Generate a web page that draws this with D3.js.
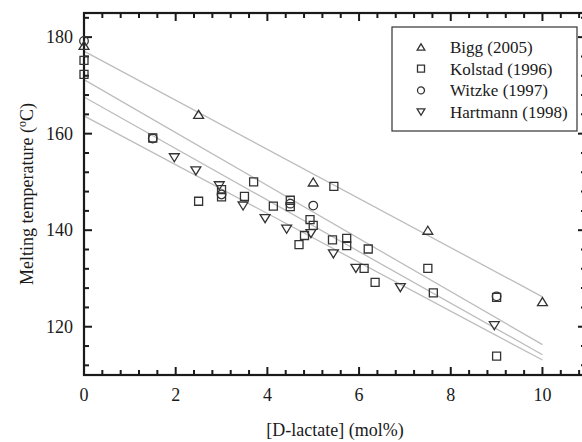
<!DOCTYPE html>
<html><head><meta charset="utf-8">
<script src="https://cdn.jsdelivr.net/npm/d3@7"></script>
<style>
html,body{margin:0;padding:0;background:#fff;}
svg{display:block;}
</style></head>
<body>
<script>
// ---- data ----
const xTicksMajor = [0, 2, 4, 6, 8, 10];
const yTicksMajor = [120, 140, 160, 180];
const seriesNames = ["Bigg (2005)", "Kolstad (1996)", "Witzke (1997)", "Hartmann (1998)"];
const biggX = [0, 2.5, 5, 7.5, 10];
const biggY = [178.3, 164, 150, 140, 125.2];
const kolstadX = [0, 0, 1.5, 2.5, 3, 3, 3.5, 3.7, 4.13, 4.5, 4.5, 4.69, 4.81, 4.93, 5, 5.42, 5.45, 5.73, 5.73, 6.11, 6.2, 6.35, 7.5, 7.62, 9, 9];
const kolstadY = [175.2, 172.3, 159.1, 146, 148.4, 146.9, 147, 150, 145, 146.2, 144.9, 137, 138.9, 142.2, 141, 138, 149.1, 138.3, 136.8, 132.1, 136.1, 129.2, 132.1, 127, 126.1, 113.9];
const witzkeX = [0, 1.5, 3, 4.5, 5, 9];
const witzkeY = [179.2, 159, 147.4, 145.5, 145.1, 126.3];
const hartmannX = [1.97, 2.44, 2.95, 3.47, 3.95, 4.42, 4.95, 5.44, 5.93, 6.9, 8.95];
const hartmannY = [155, 152.3, 149.2, 145, 142.4, 140.2, 139.3, 135.1, 132.1, 128.1, 120.2];
// fitted lines (value at x=0 and x=10)
const fitX = [0, 10];
const fitStart = [177.1, 171.2, 167.6, 163.7];
const fitEnd = [126.2, 116.3, 114.2, 113.1];

// ---- layout ----
const W = 582, H = 442;
const L = 84, R = 586, T = 13, B = 375;
const FONT = "'Liberation Serif', 'Times New Roman', Times, serif";
const svg = d3.select("body").append("svg").attr("width", W).attr("height", H)
  .attr("font-family", FONT).style("font-family", FONT);

const x = d3.scaleLinear().domain([0, 10.95]).range([L, R]);
const y = d3.scaleLinear().domain([110, 185]).range([B, T]);
const ink = "#1a1a1a";
const mk = "#333";

// fit lines
const line = d3.line().x(d => x(d[0])).y(d => y(d[1]));
fitStart.forEach((s, i) => {
  svg.append("path").datum([[fitX[0], s], [fitX[1], fitEnd[i]]])
    .attr("d", line).attr("fill", "none").attr("stroke", "#bdbdbd").attr("stroke-width", 1.3);
});

// frame
svg.append("rect").attr("x", L).attr("y", T).attr("width", R - L).attr("height", B - T)
  .attr("fill", "none").attr("stroke", ink).attr("stroke-width", 2.2);

// ticks
const xMinor = d3.range(0, 28).map(i => +(i * 0.4).toFixed(2)).filter(v => v <= 10.95);
const yMinor = d3.range(112, 186, 4);
const isMajX = v => xTicksMajor.some(t => Math.abs(t - v) < 1e-6);
const isMajY = v => yTicksMajor.includes(v);
const tg = svg.append("g").attr("stroke", ink).attr("stroke-width", 2);
xMinor.forEach(v => {
  const len = isMajX(v) ? 8 : 5;
  tg.append("line").attr("x1", x(v)).attr("x2", x(v)).attr("y1", B).attr("y2", B - len);
  tg.append("line").attr("x1", x(v)).attr("x2", x(v)).attr("y1", T).attr("y2", T + len);
});
yMinor.forEach(v => {
  const len = isMajY(v) ? 8 : 5;
  tg.append("line").attr("y1", y(v)).attr("y2", y(v)).attr("x1", L).attr("x2", L + len);
  tg.append("line").attr("y1", y(v)).attr("y2", y(v)).attr("x1", R).attr("x2", R - len);
});

// tick labels
svg.append("g").selectAll("text").data(xTicksMajor).join("text")
  .attr("x", d => x(d)).attr("y", 401).attr("text-anchor", "middle")
  .attr("font-size", 18).attr("fill", ink).text(d => d);
svg.append("g").selectAll("text").data(yTicksMajor).join("text")
  .attr("x", 73).attr("y", d => y(d) + 6).attr("text-anchor", "end")
  .attr("font-size", 18).attr("fill", ink).text(d => d);

// axis titles
svg.append("text").attr("x", (L + R) / 2).attr("y", 436).attr("text-anchor", "middle")
  .attr("font-size", 18).attr("fill", ink).text("[D-lactate] (mol%)");
const yt = svg.append("text").attr("transform", `translate(33,${(T + B) / 2}) rotate(-90)`)
  .attr("text-anchor", "middle").attr("font-size", 18).attr("fill", ink);
yt.append("tspan").text("Melting temperature (");
yt.append("tspan").attr("font-size", 12).attr("dy", -7).text("o");
yt.append("tspan").attr("dy", 7).text("C)");

// marker shapes (centered on bounding box)
function shapePath(kind, cx, cy, s) {
  const p = d3.path();
  if (kind === 0) { // up triangle
    p.moveTo(cx - s * 0.55, cy + s * 0.45); p.lineTo(cx + s * 0.55, cy + s * 0.45); p.lineTo(cx, cy - s * 0.45); p.closePath();
  } else if (kind === 1) { // square
    p.rect(cx - s / 2, cy - s / 2, s, s);
  } else if (kind === 2) { // circle
    p.moveTo(cx + s / 2, cy); p.arc(cx, cy, s / 2, 0, 2 * Math.PI);
  } else { // down triangle
    p.moveTo(cx - s * 0.55, cy - s * 0.45); p.lineTo(cx + s * 0.55, cy - s * 0.45); p.lineTo(cx, cy + s * 0.45); p.closePath();
  }
  return p.toString();
}
const allSeries = [[biggX, biggY], [kolstadX, kolstadY], [witzkeX, witzkeY], [hartmannX, hartmannY]];
const sizes = [9, 8, 8.6, 9];
allSeries.forEach(([xs, ys], k) => {
  svg.append("g").selectAll("path").data(xs.map((v, i) => [v, ys[i]])).join("path")
    .attr("d", d => shapePath(k, x(d[0]), y(d[1]), sizes[k]))
    .attr("fill", "none").attr("stroke", mk).attr("stroke-width", 1.3);
});

// legend
const lg = svg.append("g");
lg.append("rect").attr("x", 392).attr("y", 27).attr("width", 185).attr("height", 104)
  .attr("fill", "#fff").attr("stroke", mk).attr("stroke-width", 1.2);
seriesNames.forEach((n, k) => {
  const cy = 47 + k * 21.7;
  lg.append("path").attr("d", shapePath(k, 421, cy, 7)).attr("fill", "none").attr("stroke", mk).attr("stroke-width", 1.3);
  lg.append("text").attr("x", 450).attr("y", cy + 6).attr("font-size", 17).attr("fill", ink).text(n);
});
</script>
</body></html>
